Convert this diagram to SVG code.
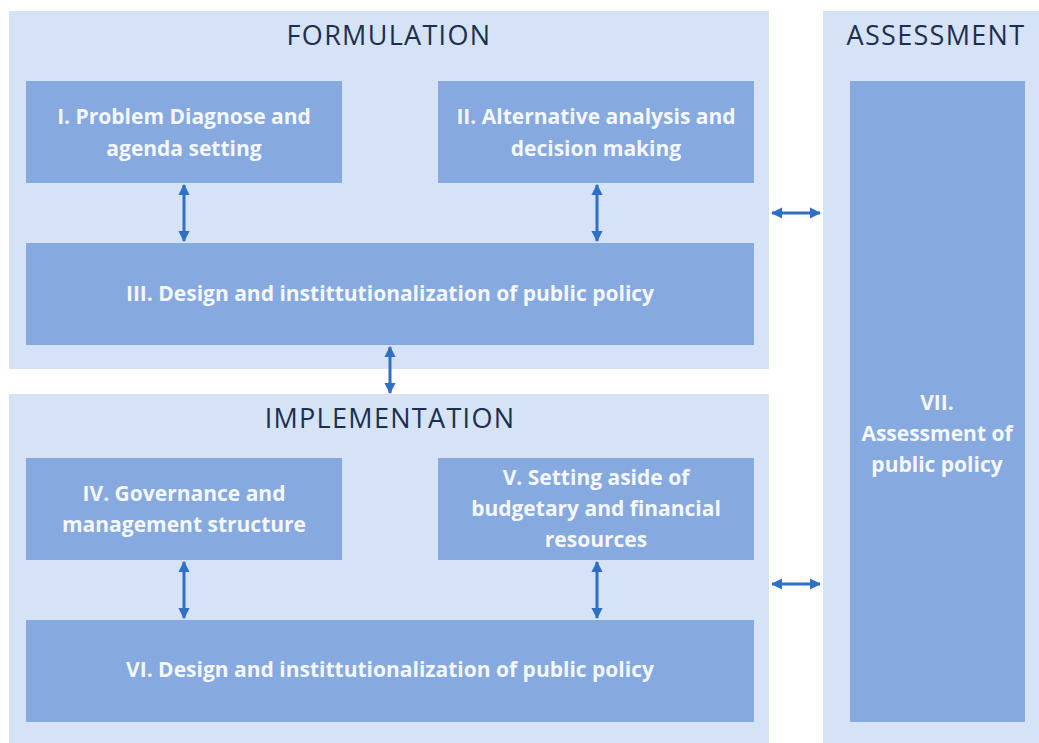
<svg xmlns="http://www.w3.org/2000/svg" width="1039" height="743" viewBox="0 0 1039 743">
<style>
.cont{fill:#d6e2f5}
.box{fill:#86a9e0}
.title{font-family:"Open Sans","Liberation Sans",sans-serif;font-size:27px;fill:#1c2f4f;text-anchor:middle;letter-spacing:1.3px}
.lbl{font-family:"Open Sans","Liberation Sans",sans-serif;font-size:21px;font-weight:bold;fill:#f4f7fc;text-anchor:middle}
.conn{stroke:#2f6fc6;stroke-width:3;fill:none;marker-start:url(#ah);marker-end:url(#ah)}
</style>
<defs>
<marker id="ah" viewBox="0 0 10 10" refX="9" refY="5" markerWidth="3.8" markerHeight="3.8" orient="auto-start-reverse" markerUnits="strokeWidth">
<path d="M0,0 L10,5 L0,10 z" fill="#2f6fc6"/>
</marker>
</defs>
<rect width="1039" height="743" fill="#ffffff"/>
<g id="formulation">
<rect class="cont" x="9" y="11" width="760" height="358"/>
<text class="title" x="389" y="45">FORMULATION</text>
</g>
<g id="implementation">
<rect class="cont" x="9" y="394" width="760" height="349"/>
<text class="title" x="390" y="428">IMPLEMENTATION</text>
</g>
<g id="assessment">
<rect class="cont" x="823" y="11" width="216" height="732"/>
<text class="title" x="936" y="45">ASSESSMENT</text>
</g>
<g id="node1">
<rect class="box" x="26" y="81" width="316" height="102"/>
<text class="lbl" x="184" y="124">I. Problem Diagnose and</text>
<text class="lbl" x="184" y="156">agenda setting</text>
</g>
<g id="node2">
<rect class="box" x="438" y="81" width="316" height="102"/>
<text class="lbl" x="596" y="124">II. Alternative analysis and</text>
<text class="lbl" x="596" y="156">decision making</text>
</g>
<g id="node3">
<rect class="box" x="26" y="243" width="728" height="102"/>
<text class="lbl" x="390" y="301">III. Design and instittutionalization of public policy</text>
</g>
<g id="node4">
<rect class="box" x="26" y="458" width="316" height="102"/>
<text class="lbl" x="184" y="501">IV. Governance and</text>
<text class="lbl" x="184" y="532">management structure</text>
</g>
<g id="node5">
<rect class="box" x="438" y="458" width="316" height="102"/>
<text class="lbl" x="596" y="485">V. Setting aside of</text>
<text class="lbl" x="596" y="516">budgetary and financial</text>
<text class="lbl" x="596" y="547">resources</text>
</g>
<g id="node6">
<rect class="box" x="26" y="620" width="728" height="102"/>
<text class="lbl" x="390" y="677">VI. Design and instittutionalization of public policy</text>
</g>
<g id="node7">
<rect class="box" x="850" y="81" width="175" height="641"/>
<text class="lbl" x="937" y="410">VII.</text>
<text class="lbl" x="937" y="441">Assessment of</text>
<text class="lbl" x="937" y="472">public policy</text>
</g>
<g id="connectors">
<line class="conn" x1="184" y1="185" x2="184" y2="241"/>
<line class="conn" x1="597" y1="185" x2="597" y2="241"/>
<line class="conn" x1="390" y1="347" x2="390" y2="393"/>
<line class="conn" x1="184" y1="562" x2="184" y2="618"/>
<line class="conn" x1="597" y1="562" x2="597" y2="618"/>
<line class="conn" x1="772" y1="213" x2="820" y2="213"/>
<line class="conn" x1="772" y1="584" x2="820" y2="584"/>
</g>
</svg>
